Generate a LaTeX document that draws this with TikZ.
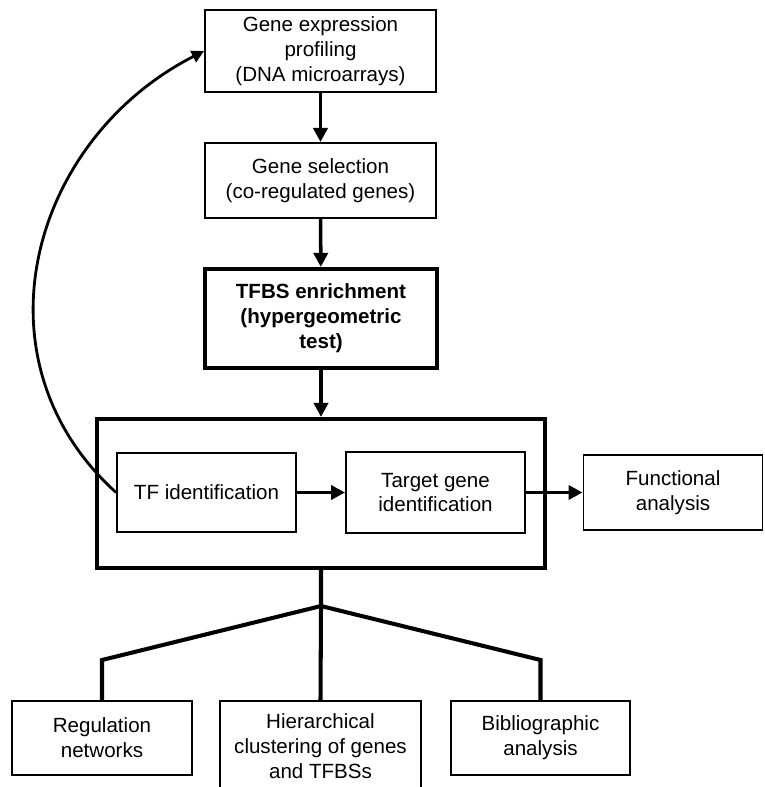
\documentclass[tikz,border=0pt]{standalone}
\usepackage{fontspec}
\setmainfont{Liberation Sans}
\usetikzlibrary{arrows.meta}
\begin{document}
\begin{tikzpicture}[x=0.02cm,y=-0.02cm,font=\fontsize{11.7}{14.2}\selectfont,>={Triangle[length=8pt,width=8pt]},line width=2pt,every node/.style={draw,align=center,inner sep=0pt,line width=1.1pt},bbox/.style={line width=2.3pt},tree/.style={line width=2.3pt}]
\useasboundingbox (0,0) rectangle (764,787);
\node[minimum width=4.62cm,minimum height=1.64cm](p) at (320.5,51){Gene expression\\profiling\\(DNA microarrays)};
\node[minimum width=4.62cm,minimum height=1.5cm](s) at (320.5,180.5){Gene selection\\(co-regulated genes)};
\node[bbox,minimum width=4.64cm,minimum height=1.98cm,font=\fontsize{11.7}{14.2}\selectfont\bfseries](e) at (321,318.5){TFBS enrichment\\(hypergeometric\\test)};
\node[bbox,minimum width=8.96cm,minimum height=2.98cm](g) at (321,493.5){};
\node[minimum width=3.58cm,minimum height=1.58cm](t) at (206.5,492.5){TF identification};
\node[minimum width=3.58cm,minimum height=1.62cm](tg) at (435.5,492.5){Target gene\\identification};
\node[minimum width=3.58cm,minimum height=1.5cm](f) at (673,492.5){Functional\\analysis};
\node[minimum width=3.6cm,minimum height=1.48cm](r) at (102,738){Regulation\\networks};
\node[minimum width=4.02cm,minimum height=1.8cm](h) at (320.5,746){Hierarchical\\clustering of genes\\and TFBSs};
\node[minimum width=3.58cm,minimum height=1.48cm](b) at (540.5,738){Bibliographic\\analysis};
\coordinate(j) at (321,606);\coordinate(jl) at (102,660);\coordinate(jr) at (540.5,660);
\draw[->](p)--(s);\draw[->](s)--(e);\draw[->](e)--(g);\draw[->](t)--(tg);\draw[->](tg)--(f);
\draw[->,line width=1.6pt,>={Triangle[length=7pt,width=7pt]}](t.west)..controls(-30,360)and(30,140)..(p.west);
\draw[tree](g.south)--(j)--(jl)--(r.north);\draw[tree](j)--(h.north);\draw[tree](j)--(jr)--(b.north);
\end{tikzpicture}
\end{document}
